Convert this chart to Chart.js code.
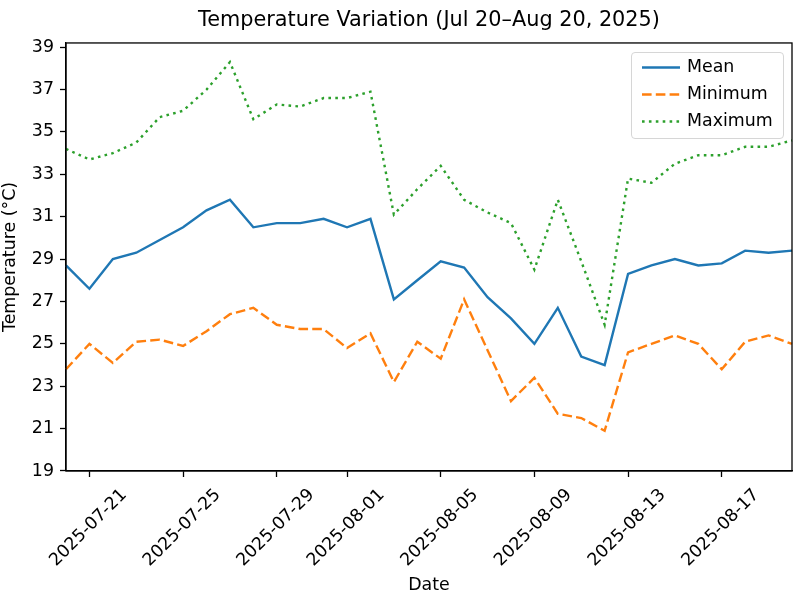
<!DOCTYPE html>
<html>
<head>
<meta charset="utf-8">
<script src="https://cdn.jsdelivr.net/npm/chart.js@4"></script>
<style>
  html, body { margin: 0; padding: 0; background: #fff; }
  canvas { display: block; }
</style>
</head>
<body>
<canvas id="tempChart" width="800" height="600"></canvas>
<script>
const dates = [
    '2025-07-20', '2025-07-21', '2025-07-22', '2025-07-23', '2025-07-24', '2025-07-25',
    '2025-07-26', '2025-07-27', '2025-07-28', '2025-07-29', '2025-07-30', '2025-07-31',
    '2025-08-01', '2025-08-02', '2025-08-03', '2025-08-04', '2025-08-05', '2025-08-06',
    '2025-08-07', '2025-08-08', '2025-08-09', '2025-08-10', '2025-08-11', '2025-08-12',
    '2025-08-13', '2025-08-14', '2025-08-15', '2025-08-16', '2025-08-17', '2025-08-18',
    '2025-08-19', '2025-08-20'
];
const meanTemps = [28.7, 27.6, 29.0, 29.3, 29.9, 30.5, 31.3, 31.8, 30.5, 30.7, 30.7, 30.9, 30.5, 30.9, 27.1, 28.0,
                   28.9, 28.6, 27.2, 26.2, 25.0, 26.7, 24.4, 24.0, 28.3, 28.7, 29.0, 28.7, 28.8, 29.4, 29.3, 29.4];
const minTemps = [23.8, 25.0, 24.1, 25.1, 25.2, 24.9, 25.6, 26.4, 26.7, 25.9, 25.7, 25.7, 24.8, 25.5, 23.2, 25.1,
                  24.3, 27.1, 24.7, 22.3, 23.4, 21.7, 21.5, 20.9, 24.6, 25.0, 25.4, 25.0, 23.8, 25.1, 25.4, 25.0];
const maxTemps = [34.2, 33.7, 34.0, 34.5, 35.7, 36.0, 37.0, 38.3, 35.6, 36.3, 36.2, 36.6, 36.6, 36.9, 31.1, 32.3,
                  33.4, 31.8, 31.2, 30.7, 28.5, 31.8, 28.9, 25.9, 32.8, 32.6, 33.5, 33.9, 33.9, 34.3, 34.3, 34.6];
const xTickDates = ['2025-07-21', '2025-07-25', '2025-07-29', '2025-08-01', '2025-08-05', '2025-08-09', '2025-08-13', '2025-08-17'];
const yTicks = [19, 21, 23, 25, 27, 29, 31, 33, 35, 37, 39];

const FS = 17.4;   // 10pt at 125 dpi
Chart.defaults.font.family = '"DejaVu Sans", sans-serif';
Chart.defaults.color = '#000';

// frame, centred rotated x labels, legend inside the axes
const framePlugin = {
    id: 'frame',
    afterDraw(chart) {
        const {ctx, chartArea: a} = chart;
        ctx.save();
        ctx.strokeStyle = '#000';
        ctx.lineWidth = 1.3;
        ctx.strokeRect(a.left, a.top, a.right - a.left, a.bottom - a.top);

        // x tick labels, rotated 45 and centred under the tick like matplotlib
        const xs = chart.scales.x;
        ctx.font = FS + 'px "DejaVu Sans"';
        ctx.fillStyle = '#000';
        ctx.textAlign = 'center';
        ctx.textBaseline = 'middle';
        xs.ticks.forEach((t, i) => {
            const label = dates[t.value];
            const w = ctx.measureText(label).width;
            const cx = xs.getPixelForTick(i) - 1;
            const cy = a.bottom + 12 + (w + FS * 1.16) * Math.SQRT1_2 / 2 + 2;
            ctx.save();
            ctx.translate(cx, cy);
            ctx.rotate(-Math.PI / 4);
            ctx.fillText(label, 0, 0);
            ctx.restore();
        });

        // legend
        const x0 = 631, y0 = 52, w = 152, h = 86;
        ctx.beginPath();
        ctx.roundRect(x0 + 0.5, y0 + 0.5, w, h, 3.5);
        ctx.fillStyle = 'rgba(255,255,255,0.8)';
        ctx.fill();
        ctx.lineWidth = 1;
        ctx.strokeStyle = 'rgba(204,204,204,0.8)';
        ctx.stroke();
        ctx.textAlign = 'left';
        ctx.fillStyle = '#000';
        chart.data.datasets.forEach((ds, i) => {
            const y = 67.5 + i * 27;
            ctx.beginPath();
            ctx.setLineDash(ds.borderDash || []);
            ctx.strokeStyle = ds.borderColor;
            ctx.lineWidth = ds.borderWidth;
            ctx.moveTo(642, y);
            ctx.lineTo(680, y);
            ctx.stroke();
            ctx.setLineDash([]);
            ctx.fillText(ds.label, 687, y);
        });
        ctx.restore();
    }
};

const ctx = document.getElementById('tempChart').getContext('2d');
new Chart(ctx, {
    type: 'line',
    data: {
        labels: dates,
        datasets: [{
            label: 'Mean',
            data: meanTemps,
            borderColor: '#1f77b4',
            borderWidth: 2.4,
            pointRadius: 0,
            tension: 0
        }, {
            label: 'Minimum',
            data: minTemps,
            borderColor: '#ff7f0e',
            borderWidth: 2.4,
            borderDash: [9.6, 4.2],
            pointRadius: 0,
            tension: 0
        }, {
            label: 'Maximum',
            data: maxTemps,
            borderColor: '#2ca02c',
            borderWidth: 2.4,
            borderDash: [2.6, 4.3],
            pointRadius: 0,
            tension: 0
        }]
    },
    options: {
        responsive: false,
        animation: false,
        layout: { padding: { left: 0, right: 8, top: 0, bottom: 0 } },
        plugins: {
            legend: { display: false },
            tooltip: { enabled: false },
            title: {
                display: true,
                text: 'Temperature Variation (Jul 20–Aug 20, 2025)',
                fullSize: false,
                font: { size: 20.8, weight: 'normal' },
                padding: { top: 8.5, bottom: 9.5 }
            }
        },
        scales: {
            x: {
                type: 'category',
                offset: false,
                grid: { drawOnChartArea: false, tickLength: 6, tickColor: '#000', tickWidth: 1.3 },
                border: { color: '#000', width: 1.3 },
                ticks: { display: false, autoSkip: false },
                afterBuildTicks: s => { s.ticks = s.ticks.filter(t => xTickDates.includes(dates[t.value])); },
                afterFit: s => { s.height = 129; },
                title: { display: true, text: 'Date', font: { size: FS }, padding: { top: 4, bottom: 4.5 } }
            },
            y: {
                min: 19,
                max: 39.2,
                grid: { drawOnChartArea: false, tickLength: 6, tickColor: '#000', tickWidth: 1.3 },
                border: { color: '#000', width: 1.3 },
                ticks: { padding: 6, font: { size: FS } },
                afterBuildTicks: s => { s.ticks = yTicks.map(v => ({ value: v })); },
                afterFit: s => { s.width = 66; },
                title: { display: true, text: 'Temperature (°C)', font: { size: FS }, padding: { top: 0, bottom: 0 } }
            }
        }
    },
    plugins: [framePlugin]
});
</script>
</body>
</html>
